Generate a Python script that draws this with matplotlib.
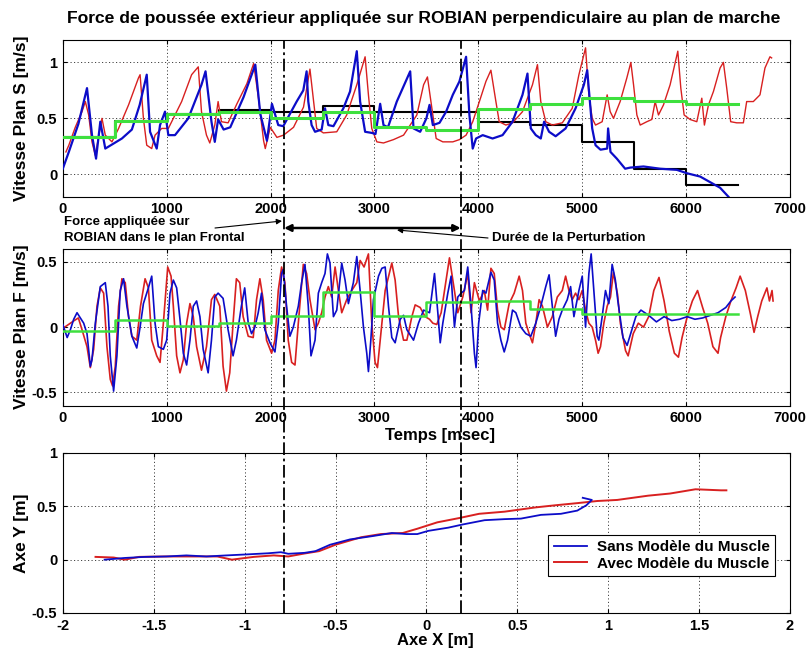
import numpy as np
import matplotlib
matplotlib.use("Agg")
import matplotlib.pyplot as plt
from matplotlib import transforms
from matplotlib.lines import Line2D
from matplotlib.patches import FancyArrowPatch

plt.rcParams['font.family'] = ['Liberation Sans', 'DejaVu Sans']

# ---------------- data ----------------
title = "Force de poussée extérieur appliquée sur ROBIAN perpendiculaire au plan de marche"
label_sans = "Sans Modèle du Muscle"
label_avec = "Avec Modèle du Muscle"

# Sagittal-plane speed [m/s] vs time [ms]
s_blue = [(0, 0.05), (58, 0.2), (150, 0.45), (233, 0.77), (281, 0.35), (320, 0.14), (361, 0.47), (409, 0.23),
          (569, 0.32), (665, 0.40), (740, 0.62), (808, 0.89), (840, 0.38), (904, 0.23), (936, 0.44), (984, 0.56),
          (1016, 0.35), (1080, 0.35), (1208, 0.5), (1335, 0.8), (1374, 0.92), (1431, 0.47), (1463, 0.29),
          (1495, 0.49), (1548, 0.40), (1612, 0.42), (1740, 0.69), (1853, 0.98), (1901, 0.54), (1965, 0.30),
          (2013, 0.63), (2074, 0.44), (2122, 0.43), (2251, 0.65), (2315, 0.75), (2347, 0.92), (2363, 0.65),
          (2395, 0.44), (2428, 0.38), (2492, 0.40), (2524, 0.59), (2556, 0.44), (2605, 0.43), (2701, 0.59),
          (2765, 0.74), (2830, 1.1), (2862, 0.65), (2910, 0.38), (2974, 0.37), (3010, 0.36), (3055, 0.63),
          (3087, 0.44), (3130, 0.42), (3215, 0.65), (3344, 0.92), (3376, 0.41), (3440, 0.38), (3500, 0.5),
          (3530, 0.62), (3562, 0.44), (3626, 0.46), (3690, 0.56), (3754, 0.71), (3818, 0.83), (3882, 1.05),
          (3914, 0.53), (3946, 0.23), (3978, 0.32), (4042, 0.35), (4137, 0.32), (4233, 0.35), (4329, 0.47),
          (4425, 0.71), (4473, 0.9), (4505, 0.41), (4553, 0.35), (4601, 0.32), (4633, 0.47), (4681, 0.38),
          (4744, 0.34), (4840, 0.41), (4936, 0.59), (5016, 0.8), (5048, 0.93), (5096, 0.41), (5128, 0.26),
          (5176, 0.22), (5240, 0.23), (5249, 0.41), (5272, 0.2), (5333, 0.14), (5413, 0.05), (5462, 0.06),
          (5590, 0.07), (5750, 0.05), (5910, 0.04), (6006, 0.01), (6135, -0.02), (6231, -0.07), (6327, -0.12),
          (6407, -0.2)]
s_red = [(30, 0.2), (58, 0.26), (120, 0.42), (185, 0.56), (217, 0.65), (249, 0.53), (281, 0.29), (313, 0.17),
         (377, 0.5), (409, 0.35), (473, 0.29), (537, 0.41), (633, 0.62), (728, 0.86), (744, 0.89), (776, 0.5),
         (808, 0.26), (856, 0.23), (888, 0.35), (952, 0.41), (1016, 0.41), (1144, 0.65), (1240, 0.89),
         (1304, 0.96), (1335, 0.56), (1383, 0.35), (1415, 0.28), (1463, 0.44), (1495, 0.65), (1527, 0.47),
         (1591, 0.46), (1676, 0.63), (1772, 0.81), (1837, 0.99), (1885, 0.67), (1933, 0.3), (1949, 0.23),
         (1997, 0.42), (2061, 0.33), (2125, 0.35), (2221, 0.42), (2317, 0.6), (2379, 0.94), (2412, 0.67),
         (2444, 0.41), (2508, 0.37), (2637, 0.38), (2733, 0.53), (2830, 0.8), (2910, 1.05), (2942, 0.71),
         (2974, 0.41), (3023, 0.29), (3087, 0.28), (3183, 0.31), (3280, 0.35), (3408, 0.53), (3473, 0.8),
         (3510, 0.87), (3562, 0.53), (3594, 0.32), (3658, 0.29), (3754, 0.29), (3818, 0.31), (3882, 0.35),
         (3946, 0.47), (4010, 0.65), (4073, 0.83), (4121, 0.93), (4169, 0.65), (4201, 0.47), (4265, 0.44),
         (4329, 0.46), (4425, 0.56), (4521, 0.8), (4569, 0.98), (4601, 0.65), (4649, 0.47), (4712, 0.44),
         (4808, 0.46), (4904, 0.59), (4968, 0.89), (5032, 1.13), (5064, 0.71), (5096, 0.5), (5128, 0.44),
         (5192, 0.47), (5240, 0.71), (5269, 0.56), (5301, 0.5), (5365, 0.65), (5429, 0.86), (5468, 1.0),
         (5494, 0.8), (5526, 0.53), (5558, 0.44), (5622, 0.47), (5670, 0.49), (5702, 0.65), (5734, 0.53),
         (5782, 0.62), (5846, 0.8), (5920, 1.1), (5949, 0.77), (5981, 0.53), (6038, 0.49), (6103, 0.47),
         (6151, 0.68), (6176, 0.44), (6215, 0.62), (6263, 0.74), (6327, 0.95), (6359, 1.0), (6391, 0.77),
         (6429, 0.47), (6487, 0.46), (6551, 0.46), (6583, 0.65), (6647, 0.65), (6711, 0.71), (6759, 0.95),
         (6807, 1.05), (6823, 1.04)]
step_edges = [0, 500, 1000, 1500, 2000, 2500, 3000, 3500, 4000, 4500, 5000, 5500, 6000, 6500]
s_green_steps = [0.335, 0.476, 0.54, 0.56, 0.50, 0.555, 0.425, 0.40, 0.58, 0.63, 0.68, 0.655, 0.63]
s_black_steps = [0.335, 0.476, 0.54, 0.573, 0.56, 0.61, 0.555, 0.56, 0.47, 0.44, 0.29, 0.05, -0.095]

# Frontal-plane speed [m/s] vs time [ms]
f_blue = [(0, 0.02), (42, -0.08), (73, -0.02), (105, 0.06), (137, 0.11), (169, 0.07), (201, 0.03), (233, -0.05),
          (265, -0.3), (281, -0.25), (313, 0.03), (361, 0.31), (409, 0.34), (435, 0.16), (457, -0.22),
          (489, -0.49), (521, -0.22), (553, 0.28), (585, 0.37), (617, 0.16), (665, -0.07), (712, -0.16),
          (744, 0.0), (776, 0.18), (824, 0.3), (856, 0.39), (888, 0.03), (920, -0.15), (968, -0.17),
          (1000, -0.1), (1032, 0.26), (1064, 0.36), (1096, 0.3), (1128, 0.06), (1160, -0.2), (1192, -0.29),
          (1224, -0.1), (1256, 0.16), (1288, 0.2), (1320, 0.08), (1351, -0.17), (1399, -0.35), (1431, -0.1),
          (1463, 0.23), (1495, 0.26), (1543, 0.22), (1591, -0.02), (1639, -0.22), (1671, -0.1), (1719, 0.16),
          (1751, 0.3), (1785, 0.03), (1817, -0.05), (1849, 0.0), (1881, 0.11), (1913, 0.26), (1945, -0.02),
          (1994, -0.12), (2042, -0.19), (2074, 0.03), (2106, 0.41), (2122, 0.44), (2154, 0.16), (2186, -0.07),
          (2219, 0.0), (2267, 0.16), (2299, 0.34), (2331, 0.48), (2363, 0.16), (2389, -0.22), (2428, -0.1),
          (2460, 0.26), (2492, 0.34), (2524, 0.41), (2547, 0.56), (2572, 0.49), (2605, 0.08), (2637, 0.13),
          (2685, 0.49), (2717, 0.36), (2749, 0.18), (2797, 0.34), (2830, 0.54), (2862, 0.28), (2894, 0.0),
          (2926, -0.2), (2942, -0.34), (2965, -0.1), (2990, 0.21), (3039, 0.39), (3071, 0.45), (3103, 0.46),
          (3135, 0.16), (3167, -0.08), (3199, -0.12), (3248, 0.06), (3280, 0.09), (3312, -0.02), (3376, -0.1),
          (3424, 0.03), (3473, 0.13), (3530, 0.11), (3578, 0.41), (3610, 0.11), (3633, -0.12), (3658, 0.03),
          (3706, 0.26), (3738, 0.39), (3770, 0.0), (3802, 0.23), (3834, 0.26), (3866, 0.28), (3898, 0.46),
          (3930, 0.16), (3962, -0.2), (3978, -0.31), (4003, 0.03), (4042, 0.28), (4073, 0.26), (4121, 0.42),
          (4153, 0.36), (4185, 0.03), (4217, -0.1), (4249, -0.19), (4281, -0.1), (4329, 0.13), (4361, 0.11),
          (4409, 0.0), (4457, -0.05), (4505, -0.07), (4553, 0.03), (4601, 0.16), (4649, 0.31), (4681, 0.4),
          (4712, 0.16), (4744, -0.07), (4776, 0.06), (4808, 0.13), (4856, 0.21), (4888, 0.31), (4920, 0.08),
          (4968, 0.28), (5000, 0.39), (5032, 0.0), (5064, 0.41), (5086, 0.56), (5112, 0.28), (5144, -0.07),
          (5160, -0.1), (5192, 0.08), (5224, 0.28), (5256, 0.18), (5288, 0.48), (5319, 0.36), (5343, 0.2),
          (5392, -0.08), (5432, -0.14), (5466, -0.05), (5516, 0.08), (5565, 0.13), (5640, 0.09), (5714, 0.04),
          (5788, 0.08), (5862, 0.05), (5936, 0.06), (6011, 0.08), (6085, 0.06), (6159, 0.07), (6233, 0.09),
          (6307, 0.11), (6382, 0.15), (6431, 0.2), (6471, 0.23)]
f_red = [(0, -0.01), (110, 0.05), (150, 0.07), (185, -0.02), (233, -0.15), (265, -0.31), (297, -0.17), (329, 0.16),
         (361, 0.3), (393, 0.26), (425, -0.15), (457, -0.4), (479, -0.45), (505, -0.3), (537, 0.16), (569, 0.37),
         (601, 0.34), (633, 0.08), (665, -0.07), (712, -0.1), (748, 0.16), (792, 0.37), (824, 0.3), (856, -0.1),
         (904, -0.22), (936, -0.27), (968, 0.03), (1010, 0.46), (1042, 0.39), (1064, 0.16), (1096, -0.22),
         (1128, -0.35), (1160, -0.25), (1192, 0.03), (1224, 0.18), (1256, 0.08), (1288, -0.15), (1335, -0.33),
         (1383, -0.15), (1431, 0.21), (1463, 0.25), (1511, 0.16), (1543, -0.3), (1575, -0.49), (1607, -0.35),
         (1639, 0.03), (1671, 0.37), (1703, 0.34), (1736, 0.08), (1785, -0.07), (1833, -0.08), (1865, 0.21),
         (1897, 0.37), (1929, 0.21), (1961, -0.1), (2010, -0.2), (2042, -0.1), (2074, 0.28), (2106, 0.46),
         (2138, 0.34), (2170, -0.1), (2203, -0.27), (2235, -0.29), (2267, 0.03), (2315, 0.48), (2347, 0.41),
         (2379, 0.21), (2428, -0.02), (2460, 0.03), (2492, 0.11), (2524, 0.23), (2556, 0.31), (2588, 0.23),
         (2621, 0.46), (2653, 0.28), (2685, 0.11), (2733, 0.21), (2781, 0.28), (2830, 0.34), (2862, 0.51),
         (2900, 0.46), (2942, 0.56), (2974, 0.03), (3006, -0.27), (3029, -0.31), (3055, -0.1), (3103, 0.28),
         (3167, 0.49), (3199, 0.36), (3232, 0.08), (3280, -0.1), (3312, -0.1), (3360, 0.08), (3392, 0.17),
         (3440, 0.15), (3488, 0.08), (3530, 0.06), (3562, 0.03), (3600, 0.02), (3642, 0.11), (3690, 0.36),
         (3722, 0.53), (3754, 0.36), (3802, 0.11), (3850, 0.23), (3898, 0.41), (3930, 0.11), (3962, 0.34),
         (4010, 0.2), (4057, 0.28), (4089, 0.13), (4121, 0.45), (4153, 0.41), (4185, 0.13), (4217, 0.0),
         (4249, -0.02), (4297, 0.18), (4345, 0.26), (4393, 0.39), (4425, 0.28), (4457, 0.03), (4489, -0.05),
         (4521, -0.12), (4553, 0.03), (4585, 0.21), (4617, 0.16), (4665, 0.0), (4712, 0.08), (4760, 0.23),
         (4808, 0.28), (4840, 0.39), (4872, 0.28), (4904, 0.21), (4936, 0.26), (4968, 0.21), (5000, 0.28),
         (5032, 0.13), (5064, 0.03), (5096, 0.0), (5128, -0.1), (5153, -0.2), (5176, -0.15), (5208, 0.03),
         (5240, 0.16), (5272, 0.23), (5300, 0.42), (5340, 0.25), (5367, 0.03), (5417, -0.18), (5442, -0.22),
         (5491, -0.05), (5540, 0.03), (5590, 0.0), (5640, 0.08), (5689, 0.28), (5739, 0.38), (5788, 0.2),
         (5837, -0.03), (5887, -0.2), (5926, -0.23), (5961, -0.08), (6011, 0.08), (6060, 0.2), (6110, 0.28),
         (6159, 0.15), (6208, 0.03), (6258, -0.15), (6307, -0.2), (6332, -0.08), (6382, 0.08), (6431, 0.2),
         (6481, 0.3), (6520, 0.39), (6570, 0.28), (6619, 0.1), (6654, -0.04), (6689, 0.08), (6728, 0.2),
         (6778, 0.3), (6802, 0.2), (6827, 0.28), (6837, 0.2)]
f_green_steps = [-0.03, 0.055, 0.005, 0.03, 0.085, 0.265, 0.085, 0.19, 0.20, 0.135, 0.10, 0.10, 0.10]

# Trajectory (X, Y) [m]
traj_blue = [(-1.77, 0.0), (-1.66, 0.016), (-1.55, 0.026), (-1.43, 0.03), (-1.32, 0.04), (-1.21, 0.03),
             (-1.10, 0.04), (-0.98, 0.05), (-0.87, 0.06), (-0.80, 0.07), (-0.76, 0.055), (-0.67, 0.064),
             (-0.61, 0.08), (-0.53, 0.14), (-0.42, 0.19), (-0.30, 0.22), (-0.19, 0.25), (-0.11, 0.24),
             (-0.05, 0.24), (0.01, 0.27), (0.12, 0.30), (0.20, 0.33), (0.32, 0.37), (0.43, 0.38), (0.52, 0.385),
             (0.63, 0.42), (0.74, 0.43), (0.83, 0.46), (0.88, 0.51), (0.91, 0.56), (0.86, 0.58)]
traj_red = [(-1.82, 0.026), (-1.72, 0.02), (-1.66, 0.0), (-1.58, 0.026), (-1.43, 0.03), (-1.29, 0.03),
            (-1.15, 0.03), (-1.07, 0.0), (-0.95, 0.026), (-0.84, 0.04), (-0.76, 0.03), (-0.67, 0.058),
            (-0.59, 0.08), (-0.50, 0.14), (-0.36, 0.21), (-0.25, 0.24), (-0.13, 0.25), (-0.05, 0.29),
            (0.06, 0.35), (0.18, 0.39), (0.29, 0.43), (0.43, 0.45), (0.60, 0.49), (0.71, 0.51), (0.83, 0.53),
            (0.94, 0.55), (1.05, 0.56), (1.22, 0.60), (1.34, 0.62), (1.48, 0.66), (1.62, 0.65), (1.65, 0.65)]

perturbation_ms = [2130, 3830]  # start / end of push (ms)
time_ticks = [0, 1000, 2000, 3000, 4000, 5000, 6000, 7000]
x_ticks = [-2, -1.5, -1, -0.5, 0, 0.5, 1, 1.5, 2]

# ---------------- style ----------------
BLUE = '#0c0cc8'
RED = '#d82020'
GREEN = '#3ee03e'
W, H = 807, 655


def style_axes(ax):
    ax.grid(True, linestyle=(0, (1.2, 2.4)), color='#444444', linewidth=0.7)
    ax.tick_params(direction='in', length=3, labelsize=10.5, top=True, right=True, pad=4)
    for lab in ax.get_xticklabels() + ax.get_yticklabels():
        lab.set_fontweight('bold')
    for sp in ax.spines.values():
        sp.set_linewidth(0.8)


def pix_rect(left, top, right, bottom):
    return [left / W, 1 - bottom / H, (right - left) / W, (bottom - top) / H]


fig = plt.figure(figsize=(W / 100, H / 100), dpi=100)
ax1 = fig.add_axes(pix_rect(62.8, 40, 790, 196.7))
ax2 = fig.add_axes(pix_rect(62.8, 248.7, 790, 405.5))
ax3 = fig.add_axes(pix_rect(62.8, 453, 790, 613))


def step_xy(edges, vals):
    xs, ys = [], []
    for i, v in enumerate(vals):
        xs += [edges[i], edges[i + 1]]
        ys += [v, v]
    return xs, ys


YLAB_X = -0.046

# ---- ax1 ----
sb = np.array(s_blue); sr = np.array(s_red)
ax1.plot(*step_xy(step_edges, s_black_steps), color='black', lw=1.5, zorder=2)
ax1.plot(sr[:, 0], sr[:, 1], color=RED, lw=1.0, zorder=3)
ax1.plot(sb[:, 0], sb[:, 1], color=BLUE, lw=1.6, zorder=4)
ax1.plot(*step_xy(step_edges, s_green_steps), color=GREEN, lw=2.2, zorder=5)
ax1.set_xlim(0, 7000); ax1.set_ylim(-0.2, 1.2)
ax1.set_xticks(time_ticks); ax1.set_yticks([0, 0.5, 1])
ax1.set_yticklabels(['0', '0.5', '1'])
ax1.set_ylabel('Vitesse Plan S [m/s]', fontsize=12.5, fontweight='bold')
ax1.yaxis.set_label_coords(YLAB_X, 0.5)
style_axes(ax1)

# ---- ax2 ----
fb = np.array(f_blue); fr = np.array(f_red)
ax2.plot(fr[:, 0], fr[:, 1], color=RED, lw=1.2, zorder=3)
ax2.plot(fb[:, 0], fb[:, 1], color=BLUE, lw=1.2, zorder=4)
ax2.plot(*step_xy(step_edges, f_green_steps), color=GREEN, lw=1.8, zorder=5)
ax2.set_xlim(0, 7000); ax2.set_ylim(-0.6, 0.6)
ax2.set_xticks(time_ticks); ax2.set_yticks([-0.5, 0, 0.5])
ax2.set_yticklabels(['-0.5', '0', '0.5'])
ax2.set_ylabel('Vitesse Plan F [m/s]', fontsize=12.5, fontweight='bold')
ax2.yaxis.set_label_coords(YLAB_X, 0.5)
ax2.set_xlabel('Temps [msec]', fontsize=12, fontweight='bold')
ax2.xaxis.set_label_coords(0.519, -0.145)
style_axes(ax2)

# ---- ax3 ----
tb = np.array(traj_blue); tr = np.array(traj_red)
ax3.plot(tr[:, 0], tr[:, 1], color=RED, lw=1.4, label=label_avec, zorder=3)
ax3.plot(tb[:, 0], tb[:, 1], color=BLUE, lw=1.3, label=label_sans, zorder=4)
ax3.set_xlim(-2, 2); ax3.set_ylim(-0.5, 1)
ax3.set_xticks(x_ticks); ax3.set_yticks([-0.5, 0, 0.5, 1])
ax3.set_xticklabels(['-2', '-1.5', '-1', '-0.5', '0', '0.5', '1', '1.5', '2'])
ax3.set_yticklabels(['-0.5', '0', '0.5', '1'])
ax3.set_ylabel('Axe Y [m]', fontsize=12.5, fontweight='bold')
ax3.yaxis.set_label_coords(YLAB_X, 0.5)
ax3.set_xlabel('Axe X [m]', fontsize=12, fontweight='bold')
ax3.xaxis.set_label_coords(0.512, -0.125)
style_axes(ax3)
h, l = ax3.get_legend_handles_labels()
leg = ax3.legend([h[1], h[0]], [l[1], l[0]], loc='upper right', bbox_to_anchor=(0.979, 0.4875),
                 borderaxespad=0, fancybox=False, edgecolor='black', framealpha=1,
                 handlelength=2.2, labelspacing=0.15, borderpad=0.35, handletextpad=0.6,
                 prop={'size': 11, 'weight': 'bold'})
leg.get_frame().set_linewidth(0.8)

# ---- perturbation lines across all panels ----
blend = transforms.blended_transform_factory(ax1.transData, fig.transFigure)
y_top = 1 - 40 / H
y_bot = 1 - 613 / H
for t in perturbation_ms:
    fig.add_artist(Line2D([t, t], [y_bot, y_top], transform=blend, color='black', lw=1.3,
                          linestyle=(0, (7, 2, 1.5, 2)), zorder=10))

# ---- title & annotations ----
fig.text(424 / W, 1 - 18 / H, title, ha='center', va='center', fontsize=12.6, fontweight='bold')
fig.text(64 / W, 1 - 222 / H, 'Force appliquée sur', ha='left', va='center', fontsize=9.5, fontweight='bold')
fig.text(64 / W, 1 - 238 / H, 'ROBIAN dans le plan Frontal', ha='left', va='center', fontsize=9.5,
         fontweight='bold')
fig.text(492 / W, 1 - 238 / H, 'Durée de la Perturbation', ha='left', va='center', fontsize=9.5,
         fontweight='bold')

y_arrow = 1 - 228 / H
fig.add_artist(FancyArrowPatch((perturbation_ms[0], y_arrow), (perturbation_ms[1], y_arrow),
                               transform=blend, arrowstyle='<|-|>', mutation_scale=10, lw=1.8,
                               color='black', shrinkA=0, shrinkB=0))
pixT = fig.transFigure
fig.add_artist(FancyArrowPatch((215 / W, 1 - 228 / H), (282 / W, 1 - 221 / H), transform=pixT,
                               arrowstyle='-|>', mutation_scale=8, lw=0.8, color='black',
                               shrinkA=0, shrinkB=0))
fig.add_artist(FancyArrowPatch((488 / W, 1 - 238 / H), (397 / W, 1 - 230 / H), transform=pixT,
                               arrowstyle='-|>', mutation_scale=8, lw=0.8, color='black',
                               shrinkA=0, shrinkB=0))

fig.savefig('out.png', dpi=100, facecolor='white')
